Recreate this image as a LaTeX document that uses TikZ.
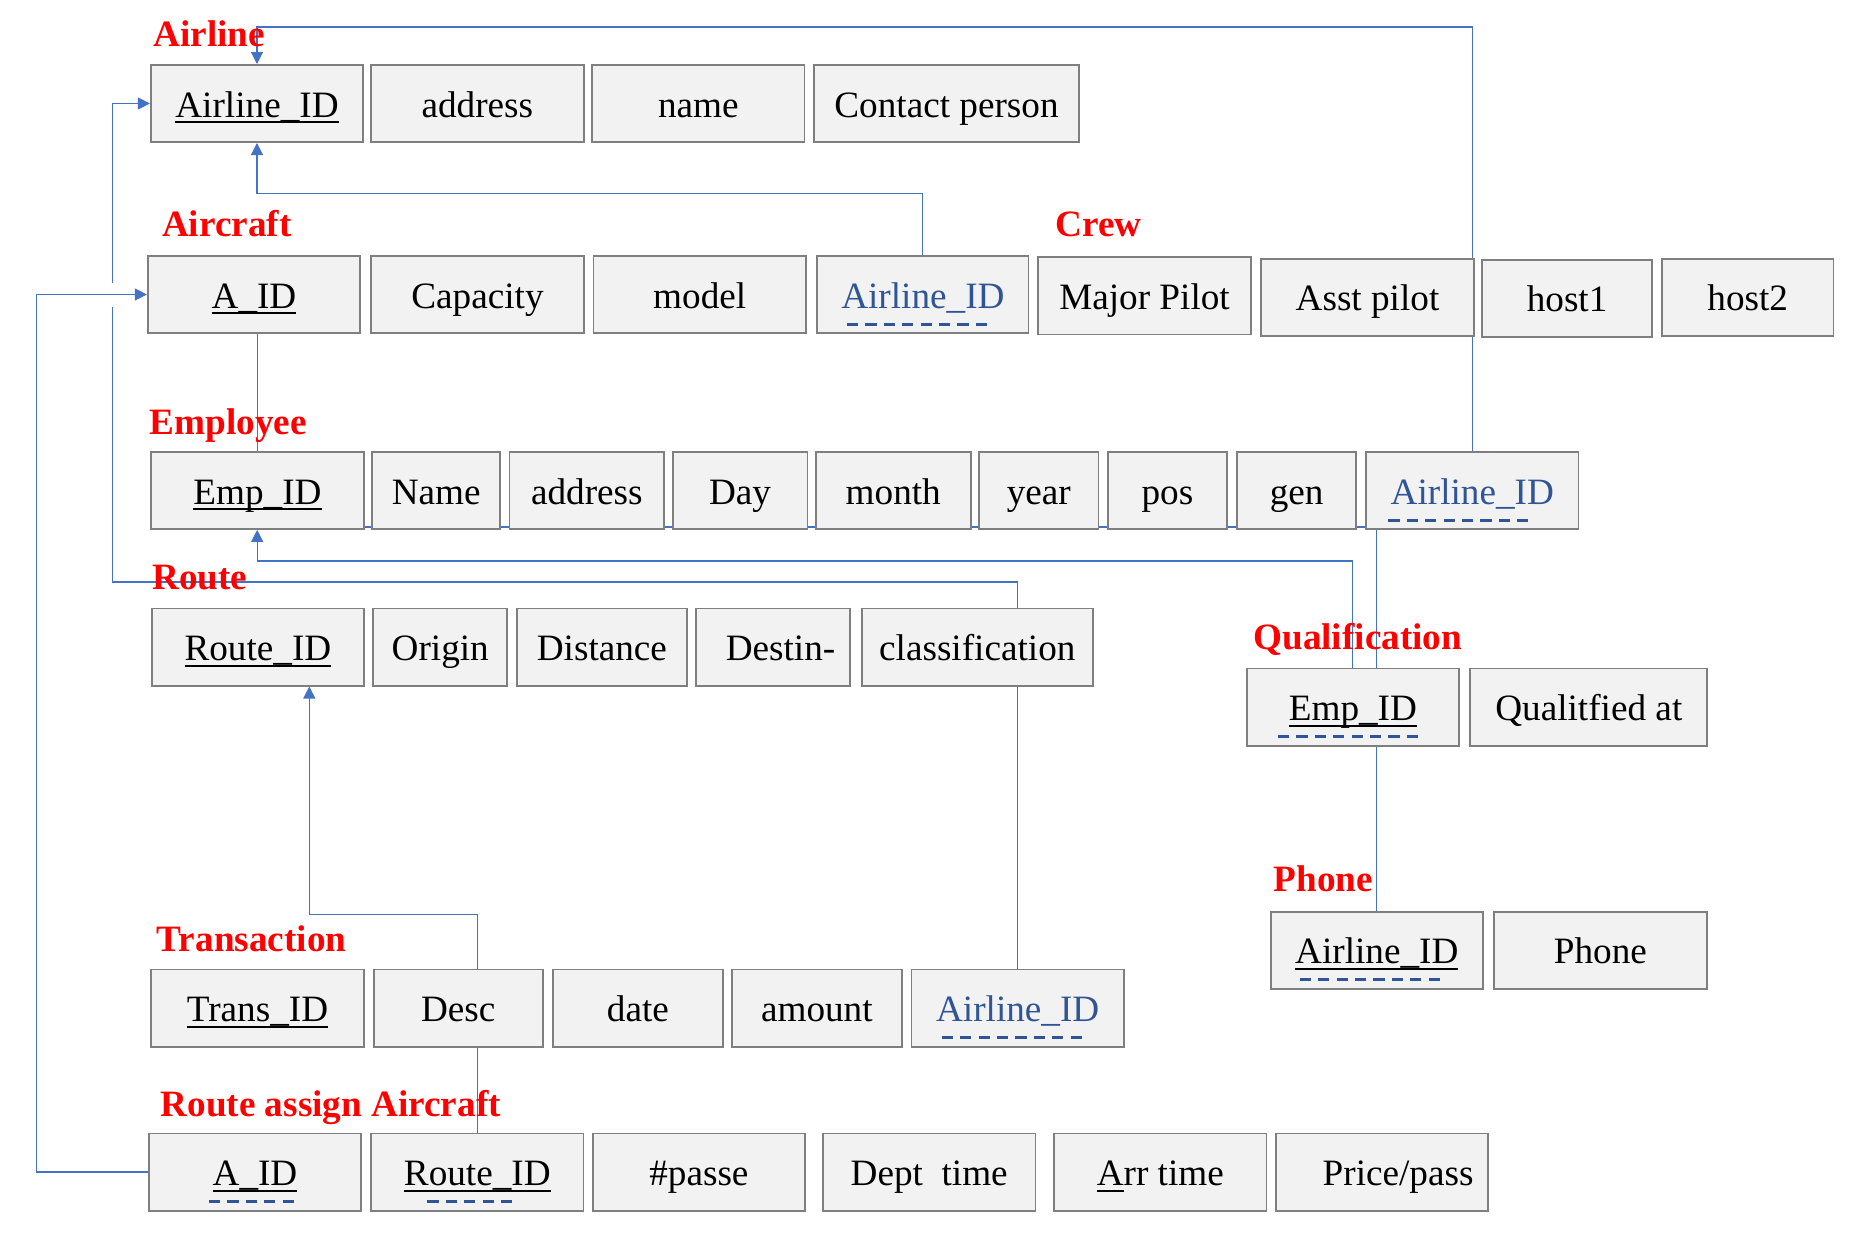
\documentclass[tikz,border=0pt]{standalone}
\usepackage{fontspec}
\setmainfont{Liberation Serif}
\usetikzlibrary{arrows.meta,positioning,backgrounds}

\definecolor{boxfill}{HTML}{F2F2F2}
\definecolor{boxline}{HTML}{7F7F7F}
\definecolor{linkblue}{HTML}{4472C4}
\definecolor{fkblue}{HTML}{2F5597}

\newcommand{\pk}[1]{\setbox0=\hbox{#1}\rlap{\rule[-0.16em]{\wd0}{0.045em}}\box0}
\newcommand{\fk}[1]{\textcolor{fkblue}{#1}}

\begin{document}
\begin{tikzpicture}[
        x=0.5pt, y=-0.5pt,
        attr/.style={draw=boxline, fill=boxfill, line width=0.9pt, inner sep=0pt,
            minimum width=106.2pt, minimum height=38.6pt,
            text height=14pt, text depth=0.4pt,
            font=\fontsize{18.6}{22}\selectfont},
        tbl/.style={anchor=base west, inner sep=0pt, text=red,
            font=\fontsize{18.6}{22}\selectfont\bfseries},
        link/.style={draw=linkblue, line width=0.55pt},
        linkto/.style={link, -{Triangle[length=6pt,width=6pt]}},
        fk/.style={draw=fkblue, line width=1.5pt, dash pattern=on 5.6pt off 3.6pt}
    ]
    \useasboundingbox (0,0) rectangle (1852,1242);

    % Airline
    \node[tbl] (tairline) at (153,46.7) {Airline};
    \node[attr] (aid) at (257,103.5) {\pk{Airline\_ID}};
    \node[attr, right=3.1pt of aid] (aaddr) {address};
    \node[attr, right=3.35pt of aaddr] (aname) {name};
    \node[attr, right=3.7pt of aname, minimum width=132.8pt] (acontact) {Contact person};

    % Aircraft
    \node[tbl] (taircraft) at (161.6,236.7) {Aircraft};
    \node[attr] (acid) at (254,294.5) {\pk{A\_ID}};
    \node[attr, right=4.65pt of acid] (capacity) {Capacity};
    \node[attr, right=4pt of capacity] (model) {model};
    \node[attr, right=4.8pt of model, minimum width=105.6pt] (craid) {\fk{Airline\_ID}};

    % Crew
    \node[tbl] (tcrew) at (1055,236) {Crew};
    \node[attr, right=4pt of craid, yshift=-0.7pt] (major) {Major Pilot};
    \node[attr, right=4.4pt of major, yshift=-0.7pt] (asst) {Asst pilot};
    \node[attr, right=3.3pt of asst, yshift=-0.5pt, minimum width=85pt] (host1) {host1};
    \node[attr, right=4pt of host1, yshift=0.5pt, minimum width=85.8pt] (host2) {host2};

    % Employee
    \node[tbl] (temployee) at (149.2,434) {Employee};
    \node[attr] (empid) at (257.5,490.4) {\pk{Emp\_ID}};
    \node[attr, right=3.3pt of empid, minimum width=64.1pt] (ename) {Name};
    \node[attr, right=3.7pt of ename, minimum width=77.4pt] (eaddr) {address};
    \node[attr, right=3.3pt of eaddr, minimum width=67.4pt] (eday) {Day};
    \node[attr, right=3.3pt of eday, minimum width=77.35pt] (emonth) {month};
    \node[attr, right=3.35pt of emonth, minimum width=59.7pt] (eyear) {year};
    \node[attr, right=3.65pt of eyear, minimum width=59.8pt] (epos) {pos};
    \node[attr, right=4pt of epos, minimum width=59.6pt] (egen) {gen};
    \node[attr, right=4.05pt of egen] (eaid) {\fk{Airline\_ID}};

    % Route
    \node[tbl] (troute) at (152,589.3) {Route};
    \node[attr] (rid) at (257.9,647) {\pk{Route\_ID}};
    \node[attr, right=3.65pt of rid, minimum width=67.05pt] (rorig) {Origin};
    \node[attr, right=4.05pt of rorig, minimum width=84.7pt] (rdist) {Distance};
    \node[attr, right=3.65pt of rdist, minimum width=77pt] (rdest) {\hspace*{7.8pt}Destin-};
    \node[attr, right=5.1pt of rdest, minimum width=115.6pt] (rclass) {classification};

    % Qualification
    \node[tbl] (tqual) at (1253,649) {Qualification};
    \node[attr] (qeid) at (1352.9,707) {\pk{Emp\_ID}};
    \node[attr, right=4.7pt of qeid, minimum width=118.5pt] (qat) {Qualitfied at};

    % Phone
    \node[tbl] (tphone) at (1273.4,891) {Phone};
    \node[attr] (paid) at (1376.8,950.2) {\pk{Airline\_ID}};
    \node[attr, right=4.7pt of paid] (pphone) {Phone};

    % Transaction
    \node[tbl] (ttrans) at (156.5,951.7) {Transaction};
    \node[attr] (tid) at (257.5,1008) {\pk{Trans\_ID}};
    \node[attr, right=4.05pt of tid, minimum width=84.7pt] (tdesc) {Desc};
    \node[attr, right=4.05pt of tdesc, minimum width=85.05pt] (tdate) {date};
    \node[attr, right=3.65pt of tdate, minimum width=84.75pt] (tamount) {amount};
    \node[attr, right=4.05pt of tamount] (taid) {\fk{Airline\_ID}};

    % Route assign Aircraft
    \node[tbl] (tassign) at (160.2,1116) {Route assign Aircraft};
    \node[attr] (aaid) at (255,1172) {\pk{A\_ID}};
    \node[attr, right=4.05pt of aaid] (arid) {\pk{Route\_ID}};
    \node[attr, right=3.7pt of arid] (apass) {\#passe};
    \node[attr, right=8.05pt of apass] (adept) {Dept~~time};
    \node[attr, right=8.45pt of adept] (aarr) {\pk{A}rr time};
    \node[attr, right=3.8pt of aarr] (aprice) {\hspace*{16pt}Price/pass};

    % Foreign keys
    \draw[fk] ([shift={(-76,16)}]craid.base) -- ++(140,0);
    \draw[fk] ([shift={(-84,16)}]eaid.base) -- ++(140,0);
    \draw[fk] ([shift={(-76,16)}]taid.base) -- ++(140,0);
    \draw[fk] ([shift={(-75,16)}]qeid.base) -- ++(140,0);
    \draw[fk] ([shift={(-77,16)}]paid.base) -- ++(140,0);
    \draw[fk] ([shift={(-46,16)}]aaid.base) -- ++(85,0);
    \draw[fk] ([shift={(-50,16)}]arid.base) -- ++(85,0);

    % Links
    \begin{scope}[on background layer]
    \coordinate (ytop) at (0,27);
    \coordinate (ymid) at (0,193.3);
    \coordinate (rbend) at (112.4,582);
    \coordinate (tbend) at (309.3,914.7);
    \coordinate (lbend) at (36.7,0);
    \coordinate (ebend) at (257.2,561);
    \coordinate (ebot) at (0,527);

    \draw[linkto] (eaid.north) |- (aid.north |- ytop) -- (aid.north);
    \draw[linkto] (craid.north) |- (aid.south |- ymid) -- (aid.south);
    \draw[link] (empid.north) -- (empid.north |- acid.south);
    \draw[linkto] (taid.north) |- (rbend) |- (aid.west);
    \draw[linkto] (arid.north) |- (tbend) -- (tbend |- rid.south);
    \draw[linkto, preaction={draw=white, line width=12pt, arrows=-}] (aaid.west) -| (lbend |- acid.west) -- (acid.west);
    \draw[linkto] (qeid.north) |- (ebend) -- (ebend |- empid.south);
    \draw[link] (paid.north) |- (empid.east |- ebot);
    \end{scope}

\end{tikzpicture}
\end{document}
